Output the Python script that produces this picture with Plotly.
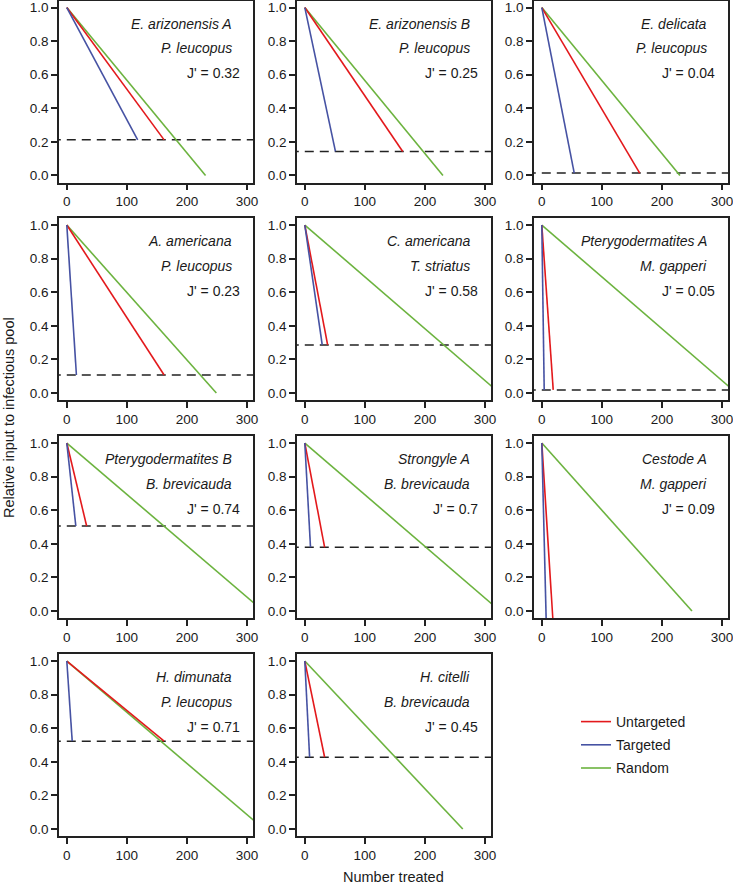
import plotly.graph_objects as go

# ---- data ----
parasites = ["E. arizonensis A", "E. arizonensis B", "E. delicata",
             "A. americana", "C. americana", "Pterygodermatites A",
             "Pterygodermatites B", "Strongyle A", "Cestode A",
             "H. dimunata", "H. citelli"]
hosts = ["P. leucopus", "P. leucopus", "P. leucopus",
         "P. leucopus", "T. striatus", "M. gapperi",
         "B. brevicauda", "B. brevicauda", "M. gapperi",
         "P. leucopus", "B. brevicauda"]
jprime = ["0.32", "0.25", "0.04", "0.23", "0.58", "0.05",
          "0.74", "0.7", "0.09", "0.71", "0.45"]
threshold = [0.212, 0.143, 0.014, 0.107, 0.286, 0.018,
             0.506, 0.379, -0.10, 0.523, 0.427]
untargeted_n = [162, 163, 163, 162, 38, 19, 33, 33, 19.3, 162, 33]
targeted_n = [118, 51, 54, 16, 29, 4, 15, 9.5, 7.6, 9, 8]
random_n = [231, 230, 230, 249, 324, 324, 327, 325, 250, 328, 263]

series_names = ["Untargeted", "Targeted", "Random"]
series_colors = ["#e3191c", "#4652a3", "#6cb33f"]

xticks = [0, 100, 200, 300]
yticks = [0.0, 0.2, 0.4, 0.6, 0.8, 1.0]

# ---- layout geometry (pixels) ----
W, H = 733, 886
col_left = [59, 297, 534]
panel_w = 194
row_top = [0.5, 218, 436, 654]
panel_h = 182

FONT = "Liberation Sans, Arial, sans-serif"
TXT = "#1a1a1a"
AX = "#222222"

fig = go.Figure()
annotations = []

for i in range(len(parasites)):
    r, c = divmod(i, 3)
    k = i + 1
    xa = "x" if k == 1 else f"x{k}"
    ya = "y" if k == 1 else f"y{k}"
    thr = threshold[i]
    fig.add_trace(go.Scatter(x=[-50, 400], y=[thr, thr], mode="lines",
                             line=dict(color="#222222", width=1.5, dash="9px,6px"),
                             showlegend=False, hoverinfo="skip", xaxis=xa, yaxis=ya))
    ends = [(untargeted_n[i], thr), (targeted_n[i], thr), (random_n[i], 0.0)]
    for s in [2, 0, 1]:
        xe, ye = ends[s]
        fig.add_trace(go.Scatter(x=[0, xe], y=[1.0, ye], mode="lines",
                                 line=dict(color=series_colors[s], width=1.6),
                                 name=series_names[s], legendgroup=series_names[s],
                                 legendrank=s + 1,
                                 showlegend=(i == 0), xaxis=xa, yaxis=ya))
    x0 = col_left[c] / W
    x1 = (col_left[c] + panel_w) / W
    y1 = 1 - row_top[r] / H
    y0 = 1 - (row_top[r] + panel_h) / H
    axis_common = dict(showline=True, linecolor=AX, linewidth=1.5, mirror=True,
                       ticks="outside", ticklen=6, tickwidth=1.5, tickcolor=AX,
                       showgrid=False, zeroline=False, automargin=False,
                       ticklabeloverflow="allow",
                       tickfont=dict(family=FONT, size=13.5, color=TXT))
    fig.layout[f"xaxis{'' if k == 1 else k}"] = dict(
        domain=[x0, x1], range=[-13, 310], tickvals=xticks,
        anchor=ya, **axis_common)
    fig.layout[f"yaxis{'' if k == 1 else k}"] = dict(
        domain=[y0, y1], range=[-0.042, 1.042], tickvals=yticks,
        tickformat=".1f", anchor=xa, **axis_common)
    for txt, yv, xv in [(f"<i>{parasites[i]}</i>", 0.905, 279),
                        (f"<i>{hosts[i]}</i>", 0.757, 279),
                        (f"J' = {jprime[i]}", 0.608, 292)]:
        annotations.append(dict(text=txt, x=xv, y=yv, xref=xa, yref=ya,
                                xanchor="right", yanchor="middle", showarrow=False,
                                font=dict(family=FONT, size=14, color=TXT)))

annotations.append(dict(text="Number treated", x=393.5 / W, y=1 - 876.5 / H,
                        xref="paper", yref="paper", xanchor="center", yanchor="middle",
                        showarrow=False, font=dict(family=FONT, size=14.5, color=TXT)))
annotations.append(dict(text="Relative input to infectious pool", x=9 / W, y=1 - 418 / H,
                        xref="paper", yref="paper", xanchor="center", yanchor="middle",
                        textangle=-90, showarrow=False,
                        font=dict(family=FONT, size=14.5, color=TXT)))

fig.update_layout(
    width=W, height=H,
    margin=dict(l=0, r=0, t=0, b=0),
    paper_bgcolor="white", plot_bgcolor="white",
    annotations=annotations,
    showlegend=True,
    legend=dict(x=576 / W, y=1 - 706 / H, xanchor="left", yanchor="top",
                font=dict(family=FONT, size=14, color=TXT),
                bgcolor="rgba(0,0,0,0)", tracegroupgap=2,
                traceorder="grouped"),
)

fig.write_html("out.html", config={"displayModeBar": False},
               post_script="document.body.style.margin='0';document.body.style.overflow='hidden';")
